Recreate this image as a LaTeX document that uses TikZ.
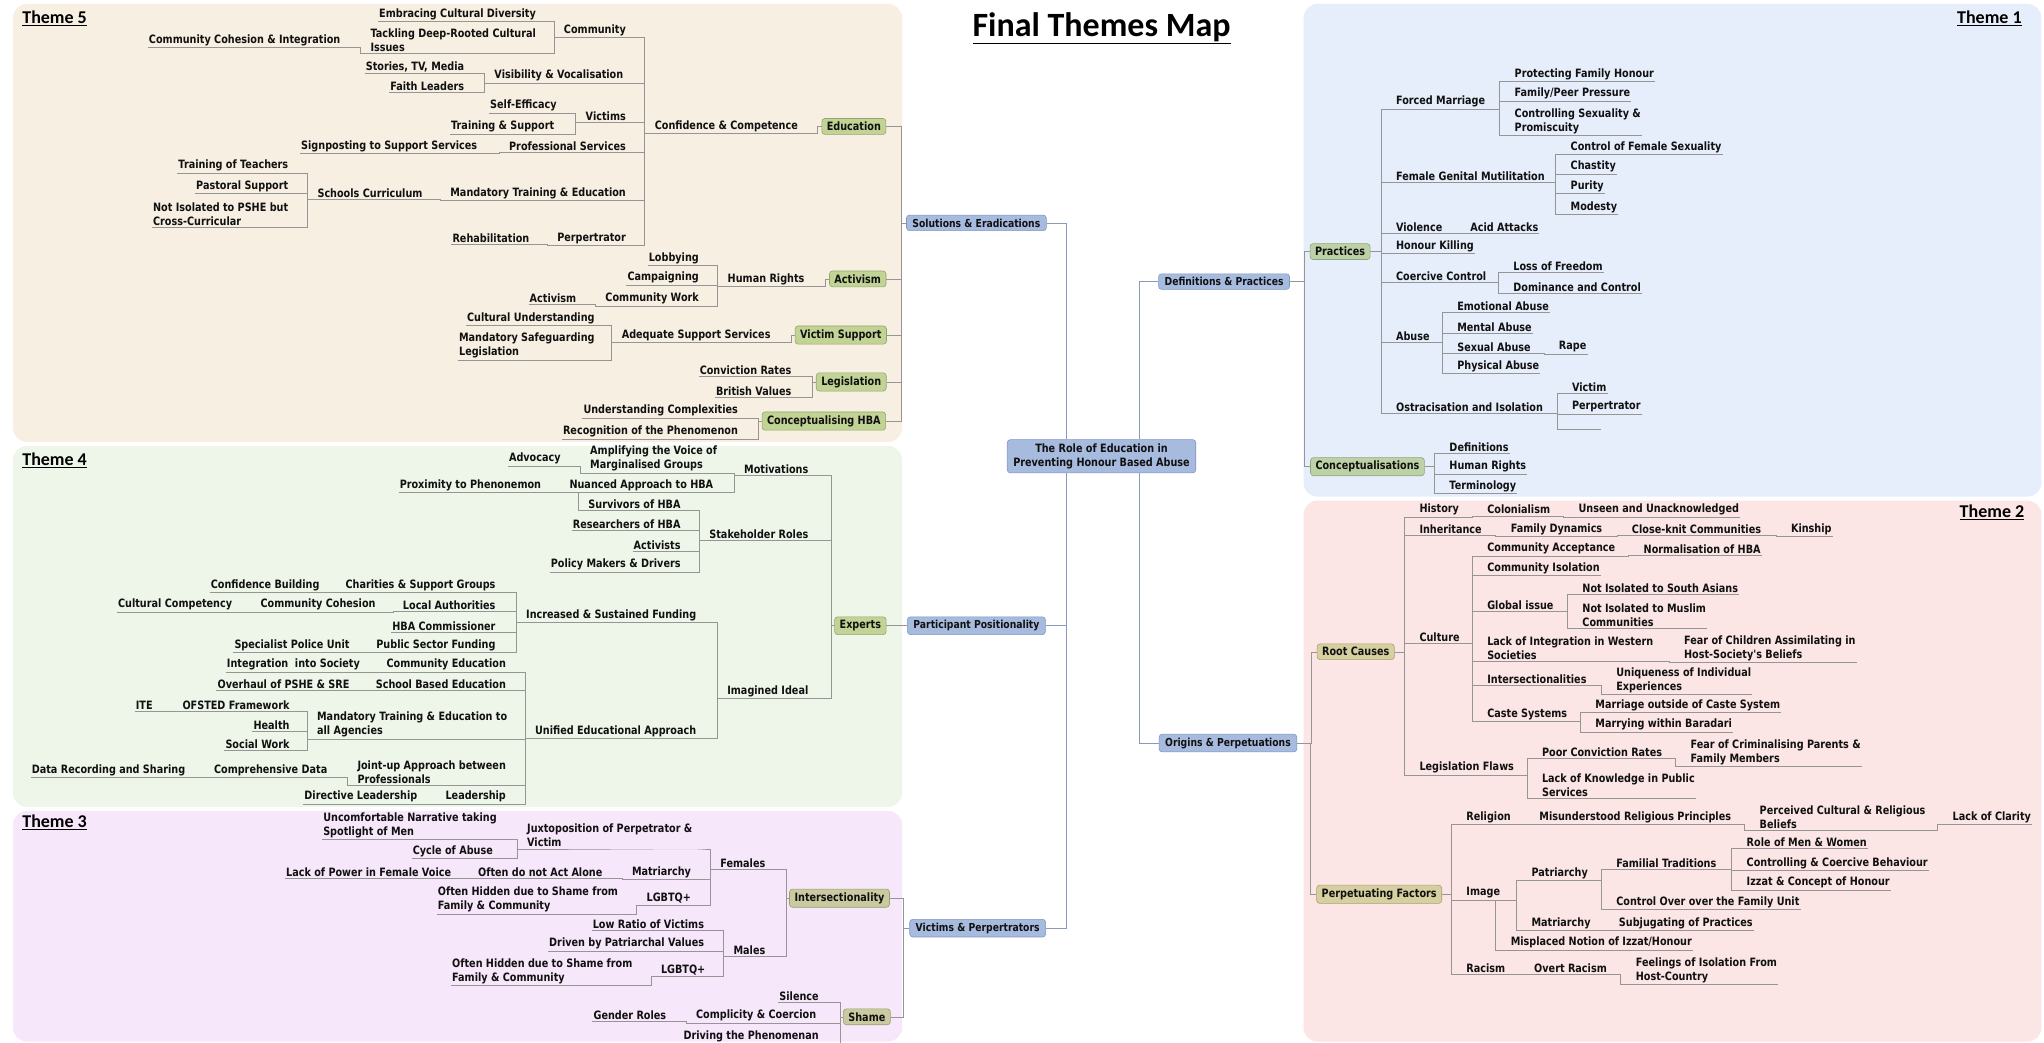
\documentclass[tikz,border=0pt]{standalone}
\usepackage{fontspec}
\setmainfont{DejaVu Sans}
\newfontfamily\mapfont{DejaVu Sans}[FakeStretch=0.84]
\newfontfamily\titlefont{Carlito}
\usetikzlibrary{calc}
\definecolor{pfive}{HTML}{F7EFE2}
\definecolor{pfour}{HTML}{EEF6EA}
\definecolor{pthree}{HTML}{F6E7FB}
\definecolor{pone}{HTML}{E7EEFB}
\definecolor{ptwo}{HTML}{FBE5E5}
\definecolor{bluef}{HTML}{A7BBDF}
\definecolor{bluedk}{HTML}{7F96C2}
\definecolor{gfive}{HTML}{C2D396}
\definecolor{gfived}{HTML}{93A66A}
\definecolor{khaki}{HTML}{CACAA0}
\definecolor{khakid}{HTML}{9C9C70}
\definecolor{gone}{HTML}{BCD1A5}
\definecolor{goned}{HTML}{8FA67A}
\definecolor{olv}{HTML}{D6CFA0}
\definecolor{olvd}{HTML}{A8A070}
\definecolor{linec}{HTML}{959595}
\definecolor{spinec}{HTML}{8A9BB8}
\definecolor{txtc}{HTML}{111111}
\newcommand\ConL[3][9pt]{\draw[conn] (#2.south west) -- (#2.south east) -| ([xshift=-#1]#3.south west) -- (#3.south west);}
\newcommand\ConLB[3][4pt]{\draw[conn] (#2.south west) -- (#2.south east) -| ([xshift=-#1]#3.west) -- (#3.west);}
\newcommand\ConR[3][14pt]{\draw[conn] (#2.south east) -| ([xshift=-#1]#3.south west) -- (#3.south east);}
\newcommand\ConRB[3][14pt]{\draw[conn] (#2.east) -| ([xshift=-#1]#3.south west) -- (#3.south east);}
\begin{document}
\begin{tikzpicture}[x=1.3036pt,y=-1.3036pt,
  tx/.style={font=\mapfont\bfseries\fontsize{11.5}{14}\selectfont, inner xsep=1pt, inner ysep=1.5pt, align=left, text=txtc},
  L/.style={tx, anchor=east},
  R/.style={tx, anchor=west},
  conn/.style={draw=linec, line width=0.5pt},
  mainconn/.style={draw=spinec, line width=0.8pt},
  bbox/.style={font=\mapfont\bfseries\fontsize{11}{13}\selectfont, draw=bluedk, fill=bluef, rounded corners=3pt, inner xsep=6pt, inner ysep=3.5pt, line width=0.6pt, text=txtc},
  gbox/.style={font=\mapfont\bfseries\fontsize{11.5}{14}\selectfont, draw=gfived, fill=gfive, rounded corners=3pt, inner xsep=5pt, inner ysep=3.5pt, line width=0.6pt, text=txtc},
  kbox/.style={gbox, draw=khakid, fill=khaki},
  obox/.style={gbox, draw=goned, fill=gone},
  rbox/.style={gbox, draw=olvd, fill=olv},
  theme/.style={font=\titlefont\bfseries\fontsize{18}{20}\selectfont, inner sep=0pt}
]
\useasboundingbox (0,0) rectangle (1568,800);
\fill[white] (0,0) rectangle (1568,800);
% panels
\fill[pfive, rounded corners=14pt] (10,3) rectangle (692,339);
\fill[pfour, rounded corners=14pt] (10,342) rectangle (692,619);
\fill[pthree, rounded corners=14pt] (10,622) rectangle (692,799);
\fill[pone, rounded corners=14pt] (1000,3) rectangle (1566,381);
\fill[ptwo, rounded corners=14pt] (1000,384) rectangle (1566,799);
% title and theme labels
\node[font=\titlefont\bfseries\fontsize{34}{38}\selectfont, inner sep=0pt] (title) at (845,22) {\underline{Final Themes Map}};
\node[theme, anchor=west] (th5) at (17,14) {\underline{Theme 5}};
\node[theme, anchor=west] (th4) at (17,353) {\underline{Theme 4}};
\node[theme, anchor=west] (th3) at (17,631) {\underline{Theme 3}};
\node[theme, anchor=east] (th1) at (1551,14) {\underline{Theme 1}};
\node[theme, anchor=east] (th2) at (1553,393) {\underline{Theme 2}};

% ===== centre and level-1 boxes
\node[bbox, align=center, font=\mapfont\bfseries\fontsize{11.5}{14}\selectfont, inner ysep=4pt] (cen) at (845,350) {The Role of Education in\\Preventing Honour Based Abuse};
\node[bbox] (sol) at (749,171) {Solutions \& Eradications};
\node[bbox] (par) at (749,480) {Participant Positionality};
\node[bbox] (vp) at (750,712) {Victims \& Perpertrators};
\node[bbox] (def) at (939,216) {Definitions \& Practices};
\node[bbox] (ori) at (942,570) {Origins \& Perpetuations};

% ===== Theme 5
\node[L] (t5a) at (412,11) {Embracing Cultural Diversity};
\node[L] (t5b) at (412,31) {Tackling Deep-Rooted Cultural\\Issues};
\node[L] (t5c) at (262,31) {Community Cohesion \& Integration};
\node[L] (t5d) at (481,23) {Community};
\node[L] (t5e) at (357,51) {Stories, TV, Media};
\node[L] (t5f) at (357,66) {Faith Leaders};
\node[L] (t5g) at (479,58) {Visibility \& Vocalisation};
\node[L] (t5h) at (428,81) {Self-Efficacy};
\node[L] (t5i) at (426,97) {Training \& Support};
\node[L] (t5j) at (481,89) {Victims};
\node[L] (t5k) at (481,112) {Professional Services};
\node[L] (t5l) at (367,112) {Signposting to Support Services};
\node[L] (t5m) at (481,148) {Mandatory Training \& Education};
\node[L] (t5n) at (325,148) {Schools Curriculum};
\node[L] (t5o) at (222,127) {Training of Teachers};
\node[L] (t5p) at (222,143) {Pastoral Support};
\node[L] (t5q) at (222,164) {Not Isolated to PSHE but\\Cross-Curricular};
\node[L] (t5r) at (481,183) {Perpertrator};
\node[L] (t5s) at (407,183) {Rehabilitation};
\node[L] (t5t) at (613,97) {Confidence \& Competence};
\node[gbox] (edu) at (655,97) {Education};
\node[L] (t5u) at (618,214) {Human Rights};
\node[L] (t5v) at (537,198) {Lobbying};
\node[L] (t5w) at (537,213) {Campaigning};
\node[L] (t5x) at (537,229) {Community Work};
\node[L] (t5y) at (443,229) {Activism};
\node[gbox] (act) at (658,214) {Activism};
\node[L] (t5z) at (592,257) {Adequate Support Services};
\node[L] (t5aa) at (457,244) {Cultural Understanding};
\node[L] (t5ab) at (457,265) {Mandatory Safeguarding\\Legislation};
\node[gbox] (vs) at (645,257) {Victim Support};
\node[L] (t5ac) at (608,284) {Conviction Rates};
\node[L] (t5ad) at (608,300) {British Values};
\node[gbox] (leg) at (653,293) {Legislation};
\node[L] (t5ae) at (567,315) {Understanding Complexities};
\node[L] (t5af) at (567,331) {Recognition of the Phenomenon};
\node[gbox] (chba) at (632,323) {Conceptualising HBA};

\ConL{t5a}{t5d} \ConL{t5b}{t5d} \ConL{t5c}{t5b}
\ConL{t5e}{t5g} \ConL{t5f}{t5g}
\ConL{t5h}{t5j} \ConL{t5i}{t5j}
\ConL{t5l}{t5k}
\ConL{t5o}{t5n} \ConL{t5p}{t5n} \ConL{t5q}{t5n} \ConL{t5n}{t5m}
\ConL{t5s}{t5r}
\ConL{t5d}{t5t} \ConL{t5g}{t5t} \ConL{t5j}{t5t} \ConL{t5k}{t5t} \ConL{t5m}{t5t} \ConL{t5r}{t5t}
\ConLB{t5t}{edu}
\ConL{t5v}{t5u} \ConL{t5w}{t5u} \ConL{t5x}{t5u} \ConL{t5y}{t5x}
\ConLB{t5u}{act}
\ConL{t5aa}{t5z} \ConL{t5ab}{t5z}
\ConLB{t5z}{vs}
\ConLB{t5ac}{leg} \ConLB{t5ad}{leg}
\ConLB{t5ae}{chba} \ConLB{t5af}{chba}
\foreach \g in {edu,act,vs,leg,chba} {\draw[conn] (\g.east) -| ([xshift=-5pt]sol.west) -- (sol.west);}

% ===== Theme 4
\node[L] (t4a) at (551,352) {Amplifying the Voice of\\Marginalised Groups};
\node[L] (t4b) at (431,352) {Advocacy};
\node[L] (t4c) at (548,372) {Nuanced Approach to HBA};
\node[L] (t4d) at (621,360) {Motivations};
\node[L] (t4e) at (416,372) {Proximity to Phenonemon};
\node[L] (t4f) at (523,387) {Survivors of HBA};
\node[L] (t4g) at (523,402) {Researchers of HBA};
\node[L] (t4h) at (523,418) {Activists};
\node[L] (t4i) at (523,433) {Policy Makers \& Drivers};
\node[L] (t4j) at (621,410) {Stakeholder Roles};
\node[gbox] (exp) at (660,480) {Experts};
\node[L] (t4k) at (535,472) {Increased \& Sustained Funding};
\node[L] (t4l) at (381,449) {Charities \& Support Groups};
\node[L] (t4m) at (246,449) {Confidence Building};
\node[L] (t4n) at (381,464) {Local Authorities};
\node[L] (t4o) at (289,464) {Community Cohesion};
\node[L] (t4p) at (179,464) {Cultural Competency};
\node[L] (t4q) at (381,480) {HBA Commissioner};
\node[L] (t4r) at (381,495) {Public Sector Funding};
\node[L] (t4s) at (269,495) {Specialist Police Unit};
\node[L] (t4t) at (389,510) {Community Education};
\node[L] (t4u) at (277,510) {Integration\ \ into Society};
\node[L] (t4v) at (389,525) {School Based Education};
\node[L] (t4w) at (269,525) {Overhaul of PSHE \& SRE};
\node[L] (t4x) at (390,556) {Mandatory Training \& Education to\\all Agencies};
\node[L] (t4y) at (223,541) {OFSTED Framework};
\node[L] (t4z) at (118,541) {ITE};
\node[L] (t4aa) at (223,556) {Health};
\node[L] (t4ab) at (223,571) {Social Work};
\node[L] (t4ac) at (389,592) {Joint-up Approach between\\Professionals};
\node[L] (t4ad) at (252,591) {Comprehensive Data};
\node[L] (t4ae) at (143,591) {Data Recording and Sharing};
\node[L] (t4af) at (389,611) {Leadership};
\node[L] (t4ag) at (321,611) {Directive Leadership};
\node[L] (t4ah) at (535,561) {Unified Educational Approach};
\node[L] (t4ai) at (621,530) {Imagined Ideal};

\ConL{t4b}{t4a} \ConL{t4a}{t4d} \ConL{t4c}{t4d}
\ConL{t4e}{t4f}
\ConL{t4f}{t4j} \ConL{t4g}{t4j} \ConL{t4h}{t4j} \ConL{t4i}{t4j}
\ConL{t4m}{t4l} \ConL{t4p}{t4o} \ConL{t4o}{t4n} \ConL{t4s}{t4r}
\ConL{t4l}{t4k} \ConL{t4n}{t4k} \ConL{t4q}{t4k} \ConL{t4r}{t4k}
\ConL{t4u}{t4t} \ConL{t4w}{t4v}
\ConL{t4z}{t4y} \ConL{t4y}{t4x} \ConL{t4aa}{t4x} \ConL{t4ab}{t4x}
\ConL{t4ae}{t4ad} \ConL{t4ad}{t4ac} \ConL{t4ag}{t4af}
\ConL{t4t}{t4ah} \ConL{t4v}{t4ah} \ConL{t4x}{t4ah} \ConL{t4ac}{t4ah} \ConL{t4af}{t4ah}
\ConL{t4k}{t4ai} \ConL{t4ah}{t4ai}
\ConLB[3pt]{t4d}{exp} \ConLB[3pt]{t4j}{exp} \ConLB[3pt]{t4ai}{exp}
\draw[conn] (exp.east) -- (par.west);

% ===== Theme 3
\node[L] (t3a) at (382,633) {Uncomfortable Narrative taking\\Spotlight of Men};
\node[L] (t3b) at (379,653) {Cycle of Abuse};
\node[L] (t3c) at (532,641) {Juxtoposition of Perpetrator \&\\Victim};
\node[L] (t3d) at (531,669) {Matriarchy};
\node[L] (t3e) at (463,669) {Often do not Act Alone};
\node[L] (t3f) at (347,669) {Lack of Power in Female Voice};
\node[L] (t3g) at (531,689) {LGBTQ+};
\node[L] (t3h) at (475,690) {Often Hidden due to Shame from\\Family \& Community};
\node[L] (t3i) at (588,662) {Females};
\node[L] (t3j) at (541,709) {Low Ratio of Victims};
\node[L] (t3k) at (541,724) {Driven by Patriarchal Values};
\node[L] (t3l) at (542,744) {LGBTQ+};
\node[L] (t3m) at (486,745) {Often Hidden due to Shame from\\Family \& Community};
\node[L] (t3n) at (588,729) {Males};
\node[kbox] (int) at (644,689) {Intersectionality};
\node[L] (t3o) at (629,764) {Silence};
\node[L] (t3p) at (627,779) {Complicity \& Coercion};
\node[L] (t3q) at (629,795) {Driving the Phenomenan};
\node[L] (t3r) at (512,779) {Gender Roles};
\node[kbox] (sh) at (665,780) {Shame};

\ConL{t3a}{t3c} \ConL{t3b}{t3c}
\ConL{t3f}{t3e} \ConL{t3e}{t3d} \ConL{t3h}{t3g}
\ConL{t3c}{t3i} \ConL{t3d}{t3i} \ConL{t3g}{t3i}
\ConL{t3m}{t3l}
\ConL{t3j}{t3n} \ConL{t3k}{t3n} \ConL{t3l}{t3n}
\ConLB[3pt]{t3i}{int} \ConLB[3pt]{t3n}{int}
\ConL{t3r}{t3p}
\ConLB[3pt]{t3o}{sh} \ConLB[3pt]{t3p}{sh} \ConLB[3pt]{t3q}{sh}
\draw[conn] (int.east) -| ([xshift=-6pt]vp.west) -- (vp.west);
\draw[conn] (sh.east) -| ([xshift=-6pt]vp.west) -- (vp.west);

% ===== centre connectors
\coordinate (lspn) at ([xshift=-35pt]cen.north);
\coordinate (lsps) at ([xshift=-35pt]cen.south);
\coordinate (rspn) at ([xshift=38pt]cen.north);
\coordinate (rsps) at ([xshift=38pt]cen.south);
\draw[mainconn] (sol.east) -| (lspn);
\draw[mainconn] (vp.east) -| (lsps);
\draw[mainconn] (par.east) -- (par.east -| lsps);
\draw[mainconn] (rspn) |- (def.west);
\draw[mainconn] (rsps) |- (ori.west);

% ===== Theme 1
\node[obox] (prac) at (1028,193) {Practices};
\node[obox] (conc) at (1049,358) {Conceptualisations};
\node[R] (t1a) at (1070,78) {Forced Marriage};
\node[R] (t1b) at (1161,57) {Protecting Family Honour};
\node[R] (t1c) at (1161,72) {Family/Peer Pressure};
\node[R] (t1d) at (1161,93) {Controlling Sexuality \&\\Promiscuity};
\node[R] (t1e) at (1070,135) {Female Genital Mutilitation};
\node[R] (t1f) at (1204,113) {Control of Female Sexuality};
\node[R] (t1g) at (1204,128) {Chastity};
\node[R] (t1h) at (1204,143) {Purity};
\node[R] (t1i) at (1204,159) {Modesty};
\node[R] (t1j) at (1070,174) {Violence};
\node[R] (t1k) at (1127,174) {Acid Attacks};
\node[R] (t1l) at (1070,189) {Honour Killing};
\node[R] (t1m) at (1070,212) {Coercive Control};
\node[R] (t1n) at (1160,204) {Loss of Freedom};
\node[R] (t1o) at (1160,220) {Dominance and Control};
\node[R] (t1p) at (1070,258) {Abuse};
\node[R] (t1q) at (1117,235) {Emotional Abuse};
\node[R] (t1r) at (1117,251) {Mental Abuse};
\node[R] (t1s) at (1117,266) {Sexual Abuse};
\node[R] (t1t) at (1195,266) {Rape};
\node[R] (t1u) at (1117,281) {Physical Abuse};
\node[R] (t1v) at (1070,312) {Ostracisation and Isolation};
\node[R] (t1w) at (1205,297) {Victim};
\node[R] (t1x) at (1205,312) {Perpertrator};
\node[R, minimum width=30pt] (t1y) at (1205,328) {};
\node[R] (t1z) at (1111,343) {Definitions};
\node[R] (t1aa) at (1111,358) {Human Rights};
\node[R] (t1ab) at (1111,373) {Terminology};

\draw[conn] (def.east) -| ([xshift=-6pt]prac.west) -- (prac.west);
\draw[conn] (def.east) -| ([xshift=-6pt]conc.west) -- (conc.west);
\foreach \c in {t1a,t1e,t1j,t1l,t1m,t1p,t1v} {\ConRB{prac}{\c}}
\ConR{t1a}{t1b} \ConR{t1a}{t1c} \ConR{t1a}{t1d}
\ConR{t1e}{t1f} \ConR{t1e}{t1g} \ConR{t1e}{t1h} \ConR{t1e}{t1i}
\ConR{t1j}{t1k}
\ConR{t1m}{t1n} \ConR{t1m}{t1o}
\ConR{t1p}{t1q} \ConR{t1p}{t1r} \ConR{t1p}{t1s} \ConR{t1p}{t1u}
\ConR{t1s}{t1t}
\ConR{t1v}{t1w} \ConR{t1v}{t1x} \ConR{t1v}{t1y}
\ConRB{conc}{t1z} \ConRB{conc}{t1aa} \ConRB{conc}{t1ab}

% ===== Theme 2
\node[rbox] (rc) at (1040,500) {Root Causes};
\node[rbox] (pf) at (1058,686) {Perpetuating Factors};
\node[R] (t2a) at (1088,391) {History};
\node[R] (t2b) at (1140,391) {Colonialism};
\node[R] (t2c) at (1210,391) {Unseen and Unacknowledged};
\node[R] (t2d) at (1088,406) {Inheritance};
\node[R] (t2e) at (1158,406) {Family Dynamics};
\node[R] (t2f) at (1251,406) {Close-knit Communities};
\node[R] (t2g) at (1373,406) {Kinship};
\node[R] (t2h) at (1140,421) {Community Acceptance};
\node[R] (t2i) at (1260,421) {Normalisation of HBA};
\node[R] (t2j) at (1140,436) {Community Isolation};
\node[R] (t2k) at (1088,489) {Culture};
\node[R] (t2l) at (1140,464) {Global issue};
\node[R] (t2m) at (1213,451) {Not Isolated to South Asians};
\node[R] (t2n) at (1213,472) {Not Isolated to Muslim\\Communities};
\node[R] (t2o) at (1140,497) {Lack of Integration in Western\\Societies};
\node[R] (t2p) at (1291,497) {Fear of Children Assimilating in\\Host-Society's Beliefs};
\node[R] (t2q) at (1140,521) {Intersectionalities};
\node[R] (t2r) at (1239,522) {Uniqueness of Individual\\Experiences};
\node[R] (t2s) at (1140,548) {Caste Systems};
\node[R] (t2t) at (1223,541) {Marriage outside of Caste System};
\node[R] (t2u) at (1223,556) {Marrying within Baradari};
\node[R] (t2v) at (1088,589) {Legislation Flaws};
\node[R] (t2w) at (1182,577) {Poor Conviction Rates};
\node[R] (t2x) at (1296,577) {Fear of Criminalising Parents \&\\Family Members};
\node[R] (t2y) at (1182,602) {Lack of Knowledge in Public\\Services};
\node[R] (t2z) at (1124,627) {Religion};
\node[R] (t2aa) at (1180,627) {Misunderstood Religious Principles};
\node[R] (t2ab) at (1349,627) {Perceived Cultural \& Religious\\Beliefs};
\node[R] (t2ac) at (1497,627) {Lack of Clarity};
\node[R] (t2ad) at (1124,685) {Image};
\node[R] (t2ae) at (1174,670) {Patriarchy};
\node[R] (t2af) at (1239,662) {Familial Traditions};
\node[R] (t2ag) at (1339,646) {Role of Men \& Women};
\node[R] (t2ah) at (1339,662) {Controlling \& Coercive Behaviour};
\node[R] (t2ai) at (1339,677) {Izzat \& Concept of Honour};
\node[R] (t2aj) at (1239,692) {Control Over over the Family Unit};
\node[R] (t2ak) at (1174,708) {Matriarchy};
\node[R] (t2al) at (1241,708) {Subjugating of Practices};
\node[R] (t2am) at (1158,723) {Misplaced Notion of Izzat/Honour};
\node[R] (t2an) at (1124,743) {Racism};
\node[R] (t2ao) at (1176,743) {Overt Racism};
\node[R] (t2ap) at (1254,744) {Feelings of Isolation From\\Host-Country};

\draw[conn] (ori.east) -| ([xshift=-6pt]rc.west) -- (rc.west);
\draw[conn] (ori.east) -| ([xshift=-6pt]pf.west) -- (pf.west);
\foreach \c in {t2a,t2d,t2k,t2v} {\ConRB{rc}{\c}}
\ConR{t2a}{t2b} \ConR{t2b}{t2c}
\ConR{t2d}{t2e} \ConR{t2e}{t2f} \ConR{t2f}{t2g}
\foreach \c in {t2h,t2j,t2l,t2o,t2q,t2s} {\ConR{t2k}{\c}}
\ConR{t2h}{t2i}
\ConR{t2l}{t2m} \ConR{t2l}{t2n}
\ConR{t2o}{t2p} \ConR{t2q}{t2r}
\ConR{t2s}{t2t} \ConR{t2s}{t2u}
\ConR{t2v}{t2w} \ConR{t2v}{t2y} \ConR{t2w}{t2x}
\foreach \c in {t2z,t2ad,t2an} {\ConRB{pf}{\c}}
\ConR{t2z}{t2aa} \ConR{t2aa}{t2ab} \ConR{t2ab}{t2ac}
\ConR{t2ad}{t2ae} \ConR{t2ad}{t2ak} \ConR{t2ad}{t2am}
\ConR{t2ae}{t2af} \ConR{t2ae}{t2aj}
\ConR{t2af}{t2ag} \ConR{t2af}{t2ah} \ConR{t2af}{t2ai}
\ConR{t2ak}{t2al}
\ConR{t2an}{t2ao} \ConR{t2ao}{t2ap}
\end{tikzpicture}
\end{document}
